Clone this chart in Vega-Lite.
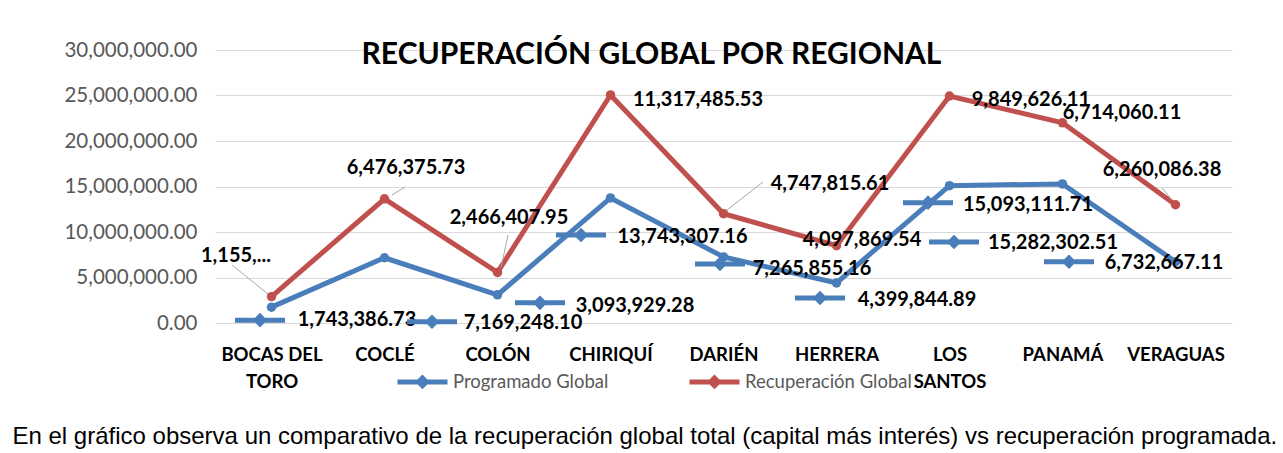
{
  "$schema": "https://vega.github.io/schema/vega-lite/v6.json",
  "width": 1017,
  "height": 273,
  "autosize": {"type": "none"},
  "padding": {"left": 215, "top": 50, "right": 51, "bottom": 130},
  "background": "white",
  "title": {
    "text": "RECUPERACIÓN GLOBAL POR REGIONAL",
    "font": "Lato",
    "fontSize": 30,
    "fontWeight": "bold",
    "color": "black",
    "anchor": "middle",
    "dx": -72,
    "dy": 38,
    "baseline": "alphabetic",
    "offset": -16
  },
  "data": {
    "values": [
      {"region": "BOCAS DEL TORO", "series": "Programado Global", "value": 1743386.73, "label": "1,743,386.73"},
      {"region": "COCLÉ", "series": "Programado Global", "value": 7169248.10, "label": "7,169,248.10"},
      {"region": "COLÓN", "series": "Programado Global", "value": 3093929.28, "label": "3,093,929.28"},
      {"region": "CHIRIQUÍ", "series": "Programado Global", "value": 13743307.16, "label": "13,743,307.16"},
      {"region": "DARIÉN", "series": "Programado Global", "value": 7265855.16, "label": "7,265,855.16"},
      {"region": "HERRERA", "series": "Programado Global", "value": 4399844.89, "label": "4,399,844.89"},
      {"region": "LOS SANTOS", "series": "Programado Global", "value": 15093111.71, "label": "15,093,111.71"},
      {"region": "PANAMÁ", "series": "Programado Global", "value": 15282302.51, "label": "15,282,302.51"},
      {"region": "VERAGUAS", "series": "Programado Global", "value": 6732667.11, "label": "6,732,667.11"},
      {"region": "BOCAS DEL TORO", "series": "Recuperación Global", "value": 1155000, "label": "1,155,..."},
      {"region": "COCLÉ", "series": "Recuperación Global", "value": 6476375.73, "label": "6,476,375.73"},
      {"region": "COLÓN", "series": "Recuperación Global", "value": 2466407.95, "label": "2,466,407.95"},
      {"region": "CHIRIQUÍ", "series": "Recuperación Global", "value": 11317485.53, "label": "11,317,485.53"},
      {"region": "DARIÉN", "series": "Recuperación Global", "value": 4747815.61, "label": "4,747,815.61"},
      {"region": "HERRERA", "series": "Recuperación Global", "value": 4097869.54, "label": "4,097,869.54"},
      {"region": "LOS SANTOS", "series": "Recuperación Global", "value": 9849626.11, "label": "9,849,626.11"},
      {"region": "PANAMÁ", "series": "Recuperación Global", "value": 6714060.11, "label": "6,714,060.11"},
      {"region": "VERAGUAS", "series": "Recuperación Global", "value": 6260086.38, "label": "6,260,086.38"}
    ]
  },
  "transform": [
    {"stack": "value", "groupby": ["region"], "sort": [{"field": "series", "order": "ascending"}], "as": ["y0", "y1"]}
  ],
  "encoding": {
    "x": {
      "field": "region",
      "type": "nominal",
      "sort": null,
      "scale": {"type": "point", "padding": 0.5, "domain": ["BOCAS DEL TORO", "COCLÉ", "COLÓN", "CHIRIQUÍ", "DARIÉN", "HERRERA", "LOS SANTOS", "PANAMÁ", "VERAGUAS"]},
      "axis": {
        "labelAngle": 0,
        "labelFont": "Lato",
        "labelFontSize": 18.5,
        "labelFontWeight": "bold",
        "labelColor": "black",
        "labelPadding": 22,
        "labelLineHeight": 27,
        "labelExpr": "datum.label == 'BOCAS DEL TORO' ? ['BOCAS DEL', 'TORO'] : datum.label == 'LOS SANTOS' ? ['LOS', 'SANTOS'] : datum.label",
        "domain": false,
        "ticks": false,
        "grid": false,
        "title": "En el gráfico observa un comparativo de la recuperación global total (capital más interés) vs recuperación programada.",
        "titleFont": "Liberation Sans",
        "titleFontSize": 24,
        "titleFontWeight": "normal",
        "titleColor": "black",
        "titleX": -203,
        "titleY": 120,
        "titleAlign": "left",
        "titleBaseline": "alphabetic"
      }
    },
    "y": {
      "field": "y1",
      "type": "quantitative",
      "scale": {"domain": [0, 30000000], "nice": false, "zero": true},
      "axis": {
        "values": [0, 5000000, 10000000, 15000000, 20000000, 25000000, 30000000],
        "format": ",.2f",
        "labelFont": "Lato",
        "labelFontSize": 20.5,
        "labelColor": "#595959",
        "labelPadding": 18,
        "domain": false,
        "ticks": false,
        "grid": true,
        "gridColor": "#d9d9d9",
        "gridWidth": 1.2,
        "title": null
      }
    }
  },
  "layer": [
    {
      "mark": {"type": "line", "strokeWidth": 5, "point": {"filled": true, "size": 90, "opacity": 1}},
      "encoding": {
        "color": {
          "field": "series",
          "type": "nominal",
          "scale": {"domain": ["Programado Global", "Recuperación Global"], "range": ["#4a7ebb", "#c0504d"]},
          "legend": {
            "orient": "none",
            "legendX": 180,
            "legendY": 304,
            "direction": "horizontal",
            "title": null,
            "labelFont": "Lato",
            "labelFontSize": 18.5,
            "labelColor": "#595959",
            "labelLimit": 400,
            "labelOffset": 3,
            "columnPadding": 70,
            "padding": 0,
            "symbolType": "M-1,0L1,0M-0.15,0L0,-0.15L0.15,0L0,0.15Z",
            "symbolSize": 2500,
            "symbolStrokeWidth": 5
          }
        }
      }
    },
    {"transform": [{"filter": "datum.series === 'Recuperación Global' && datum.region === 'BOCAS DEL TORO'"}], "mark": {"type": "rule", "color": "#a6a6a6", "strokeWidth": 1, "xOffset": -39.5, "yOffset": -31.6, "x2Offset": -3.5, "y2Offset": -2.6}, "encoding": {"x2": {"field": "region"}, "y2": {"field": "y1"}}},
    {"transform": [{"filter": "datum.series === 'Recuperación Global' && datum.region === 'COCLÉ'"}], "mark": {"type": "rule", "color": "#a6a6a6", "strokeWidth": 1, "xOffset": 20.5, "yOffset": -11.8, "x2Offset": 7.5, "y2Offset": -3.8}, "encoding": {"x2": {"field": "region"}, "y2": {"field": "y1"}}},
    {"transform": [{"filter": "datum.series === 'Recuperación Global' && datum.region === 'COLÓN'"}], "mark": {"type": "rule", "color": "#a6a6a6", "strokeWidth": 1, "xOffset": 10.5, "yOffset": -37.4, "x2Offset": 3.5, "y2Offset": -4.4}, "encoding": {"x2": {"field": "region"}, "y2": {"field": "y1"}}},
    {"transform": [{"filter": "datum.series === 'Recuperación Global' && datum.region === 'DARIÉN'"}], "mark": {"type": "rule", "color": "#a6a6a6", "strokeWidth": 1, "xOffset": 39.5, "yOffset": -31.7, "x2Offset": 3.5, "y2Offset": -3.7}, "encoding": {"x2": {"field": "region"}, "y2": {"field": "y1"}}},
    {"transform": [{"filter": "datum.series === 'Recuperación Global' && datum.region === 'VERAGUAS'"}], "mark": {"type": "rule", "color": "#a6a6a6", "strokeWidth": 1, "xOffset": -13.5, "yOffset": -16.8, "x2Offset": -3.5, "y2Offset": -4.8}, "encoding": {"x2": {"field": "region"}, "y2": {"field": "y1"}}},

    {"transform": [{"filter": "datum.series === 'Recuperación Global' && datum.region === 'BOCAS DEL TORO'"}], "mark": {"type": "text", "dx": -35.5, "dy": -40.6}, "encoding": {"text": {"field": "label"}}},
    {"transform": [{"filter": "datum.series === 'Recuperación Global' && datum.region === 'COCLÉ'"}], "mark": {"type": "text", "dx": 21.5, "dy": -31}, "encoding": {"text": {"field": "label"}}},
    {"transform": [{"filter": "datum.series === 'Recuperación Global' && datum.region === 'COLÓN'"}], "mark": {"type": "text", "dx": 11.5, "dy": -54}, "encoding": {"text": {"field": "label"}}},
    {"transform": [{"filter": "datum.series === 'Recuperación Global' && datum.region === 'CHIRIQUÍ'"}], "mark": {"type": "text", "dx": 87.5, "dy": 5}, "encoding": {"text": {"field": "label"}}},
    {"transform": [{"filter": "datum.series === 'Recuperación Global' && datum.region === 'DARIÉN'"}], "mark": {"type": "text", "dx": 106.5, "dy": -30}, "encoding": {"text": {"field": "label"}}},
    {"transform": [{"filter": "datum.series === 'Recuperación Global' && datum.region === 'HERRERA'"}], "mark": {"type": "text", "dx": 25.5, "dy": -6}, "encoding": {"text": {"field": "label"}}},
    {"transform": [{"filter": "datum.series === 'Recuperación Global' && datum.region === 'LOS SANTOS'"}], "mark": {"type": "text", "dx": 81.5, "dy": 4}, "encoding": {"text": {"field": "label"}}},
    {"transform": [{"filter": "datum.series === 'Recuperación Global' && datum.region === 'PANAMÁ'"}], "mark": {"type": "text", "dx": 59.5, "dy": -10}, "encoding": {"text": {"field": "label"}}},
    {"transform": [{"filter": "datum.series === 'Recuperación Global' && datum.region === 'VERAGUAS'"}], "mark": {"type": "text", "dx": -13.5, "dy": -35}, "encoding": {"text": {"field": "label"}}},

    {"transform": [{"filter": "datum.series === 'Programado Global' && datum.region === 'BOCAS DEL TORO'"}], "layer": [
      {"mark": {"type": "point", "shape": "M-1,0L1,0M-0.15,0L0,-0.15L0.15,0L0,0.15Z", "size": 2500, "filled": false, "fill": "#4a7ebb", "stroke": "#4a7ebb", "strokeWidth": 5, "opacity": 1, "xOffset": -11.5, "yOffset": 13}},
      {"mark": {"type": "text", "dx": 85.5, "dy": 13}, "encoding": {"text": {"field": "label"}}}
    ]},
    {"transform": [{"filter": "datum.series === 'Programado Global' && datum.region === 'COCLÉ'"}], "layer": [
      {"mark": {"type": "point", "shape": "M-1,0L1,0M-0.15,0L0,-0.15L0.15,0L0,0.15Z", "size": 2500, "filled": false, "fill": "#4a7ebb", "stroke": "#4a7ebb", "strokeWidth": 5, "opacity": 1, "xOffset": 47.5, "yOffset": 64}},
      {"mark": {"type": "text", "dx": 138.5, "dy": 65}, "encoding": {"text": {"field": "label"}}}
    ]},
    {"transform": [{"filter": "datum.series === 'Programado Global' && datum.region === 'COLÓN'"}], "layer": [
      {"mark": {"type": "point", "shape": "M-1,0L1,0M-0.15,0L0,-0.15L0.15,0L0,0.15Z", "size": 2500, "filled": false, "fill": "#4a7ebb", "stroke": "#4a7ebb", "strokeWidth": 5, "opacity": 1, "xOffset": 42.5, "yOffset": 8}},
      {"mark": {"type": "text", "dx": 137.5, "dy": 11}, "encoding": {"text": {"field": "label"}}}
    ]},
    {"transform": [{"filter": "datum.series === 'Programado Global' && datum.region === 'CHIRIQUÍ'"}], "layer": [
      {"mark": {"type": "point", "shape": "M-1,0L1,0M-0.15,0L0,-0.15L0.15,0L0,0.15Z", "size": 2500, "filled": false, "fill": "#4a7ebb", "stroke": "#4a7ebb", "strokeWidth": 5, "opacity": 1, "xOffset": -29.5, "yOffset": 37}},
      {"mark": {"type": "text", "dx": 72, "dy": 39}, "encoding": {"text": {"field": "label"}}}
    ]},
    {"transform": [{"filter": "datum.series === 'Programado Global' && datum.region === 'DARIÉN'"}], "layer": [
      {"mark": {"type": "point", "shape": "M-1,0L1,0M-0.15,0L0,-0.15L0.15,0L0,0.15Z", "size": 2500, "filled": false, "fill": "#4a7ebb", "stroke": "#4a7ebb", "strokeWidth": 5, "opacity": 1, "xOffset": -3.5, "yOffset": 7}},
      {"mark": {"type": "text", "dx": 88.5, "dy": 12}, "encoding": {"text": {"field": "label"}}}
    ]},
    {"transform": [{"filter": "datum.series === 'Programado Global' && datum.region === 'HERRERA'"}], "layer": [
      {"mark": {"type": "point", "shape": "M-1,0L1,0M-0.15,0L0,-0.15L0.15,0L0,0.15Z", "size": 2500, "filled": false, "fill": "#4a7ebb", "stroke": "#4a7ebb", "strokeWidth": 5, "opacity": 1, "xOffset": -16.5, "yOffset": 15}},
      {"mark": {"type": "text", "dx": 80.5, "dy": 17}, "encoding": {"text": {"field": "label"}}}
    ]},
    {"transform": [{"filter": "datum.series === 'Programado Global' && datum.region === 'LOS SANTOS'"}], "layer": [
      {"mark": {"type": "point", "shape": "M-1,0L1,0M-0.15,0L0,-0.15L0.15,0L0,0.15Z", "size": 2500, "filled": false, "fill": "#4a7ebb", "stroke": "#4a7ebb", "strokeWidth": 5, "opacity": 1, "xOffset": -21.5, "yOffset": 17}},
      {"mark": {"type": "text", "dx": 78.5, "dy": 19}, "encoding": {"text": {"field": "label"}}}
    ]},
    {"transform": [{"filter": "datum.series === 'Programado Global' && datum.region === 'PANAMÁ'"}], "layer": [
      {"mark": {"type": "point", "shape": "M-1,0L1,0M-0.15,0L0,-0.15L0.15,0L0,0.15Z", "size": 2500, "filled": false, "fill": "#4a7ebb", "stroke": "#4a7ebb", "strokeWidth": 5, "opacity": 1, "xOffset": -108.5, "yOffset": 58}},
      {"mark": {"type": "text", "dx": -9.5, "dy": 59}, "encoding": {"text": {"field": "label"}}}
    ]},
    {"transform": [{"filter": "datum.series === 'Programado Global' && datum.region === 'VERAGUAS'"}], "layer": [
      {"mark": {"type": "point", "shape": "M-1,0L1,0M-0.15,0L0,-0.15L0.15,0L0,0.15Z", "size": 2500, "filled": false, "fill": "#4a7ebb", "stroke": "#4a7ebb", "strokeWidth": 5, "opacity": 1, "xOffset": -106.5, "yOffset": 0}},
      {"mark": {"type": "text", "dx": -11.5, "dy": 1}, "encoding": {"text": {"field": "label"}}}
    ]}
  ],
  "config": {
    "view": {"stroke": null},
    "text": {"font": "Lato", "fontSize": 20, "fontWeight": "bold", "color": "black", "align": "center", "baseline": "middle"}
  }
}
